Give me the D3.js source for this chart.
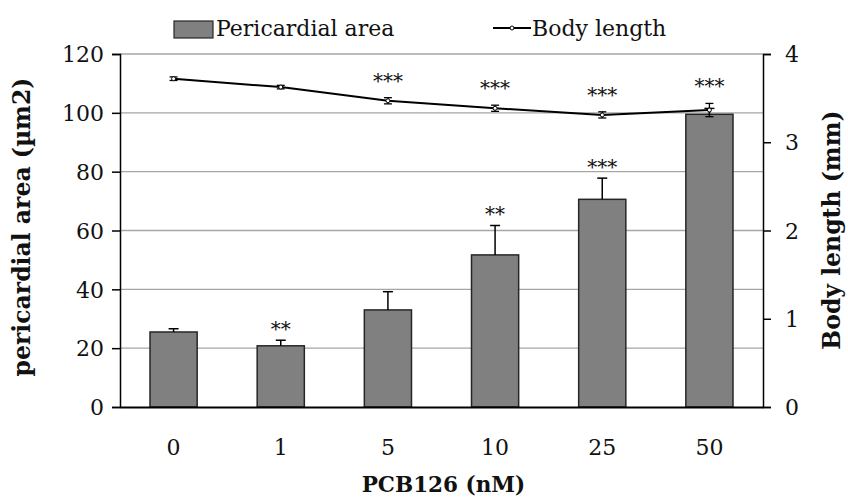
<!DOCTYPE html>
<html>
<head>
<meta charset="utf-8">
<script src="https://cdn.jsdelivr.net/npm/d3@7"></script>
<style>
  body { margin: 0; background: #fff; }
  text { font-family: "DejaVu Serif", serif; fill: #111; }
</style>
</head>
<body>
<svg id="chart" width="848" height="498"></svg>
<script>
// data
const doses = ['0', '1', '5', '10', '25', '50'];
const areaMean = [25.5, 20.8, 33, 51.7, 70.6, 99.5];
const areaErr = [1.1, 1.9, 6.2, 10, 7.2, 2];
const areaSig = ['', '**', '', '**', '***', ''];
const lengthMean = [3.72, 3.625, 3.47, 3.385, 3.31, 3.365];
const lengthErr = [0.02, 0.02, 0.035, 0.035, 0.035, 0.075];
const lengthSig = ['', '', '***', '***', '***', '***'];
const leftTicks = [0, 20, 40, 60, 80, 100, 120];
const rightTicks = [0, 1, 2, 3, 4];

const svg = d3.select('#chart');
const margin = { top: 54, right: 85, bottom: 91, left: 120 };
const W = 848, H = 498;
const innerW = W - margin.left - margin.right;
const innerH = H - margin.top - margin.bottom;

const x = d3.scaleBand().domain(doses).range([0, innerW]).paddingInner(0.56).paddingOuter(0.28);
const yL = d3.scaleLinear().domain([0, 120]).range([innerH, 0]);
const yR = d3.scaleLinear().domain([0, 4]).range([innerH, 0]);

const g = svg.append('g').attr('transform', `translate(${margin.left},${margin.top})`);

// gridlines
g.append('g').selectAll('line').data(leftTicks.filter(d => d > 0)).enter()
  .append('line')
  .attr('x1', 0).attr('x2', innerW)
  .attr('y1', d => yL(d)).attr('y2', d => yL(d))
  .attr('stroke', '#a6a6a6').attr('stroke-width', 1.3);

// bars
const bars = doses.map((d, i) => ({ d, v: areaMean[i], e: areaErr[i], s: areaSig[i] }));
g.selectAll('rect.bar').data(bars).enter()
  .append('rect').attr('class', 'bar')
  .attr('x', d => x(d.d)).attr('width', x.bandwidth())
  .attr('y', d => yL(d.v)).attr('height', d => innerH - yL(d.v))
  .attr('fill', '#808080').attr('stroke', '#262626').attr('stroke-width', 1.5);

// bar error bars (upper only)
const eb = g.append('g');
bars.forEach(b => {
  const cx = x(b.d) + x.bandwidth() / 2;
  eb.append('line').attr('x1', cx).attr('x2', cx)
    .attr('y1', yL(b.v)).attr('y2', yL(b.v + b.e)).attr('stroke', '#000').attr('stroke-width', 1.5);
  eb.append('line').attr('x1', cx - 5).attr('x2', cx + 5)
    .attr('y1', yL(b.v + b.e)).attr('y2', yL(b.v + b.e)).attr('stroke', '#000').attr('stroke-width', 1.5);
  if (b.s) {
    eb.append('text').attr('x', cx).attr('y', yL(b.v + b.e) - 4)
      .attr('text-anchor', 'middle').style('font-size', '20px').text(b.s);
  }
});

// axes
g.append('g').call(d3.axisLeft(yL).tickValues(leftTicks).tickSize(8).tickPadding(8))
  .call(a => a.selectAll('text').style('font-size', '22px').attr('dy', '0.35em'))
  .call(a => a.selectAll('line, path').attr('stroke', '#000').attr('stroke-width', 1.5));
g.append('g').attr('transform', `translate(${innerW},0)`)
  .call(d3.axisRight(yR).tickValues(rightTicks).tickFormat(d3.format('d')).tickSize(8).tickPadding(14))
  .call(a => a.selectAll('text').style('font-size', '22px').attr('dy', '0.35em'))
  .call(a => a.selectAll('line, path').attr('stroke', '#000').attr('stroke-width', 1.5));
g.append('g').attr('transform', `translate(0,${innerH})`)
  .call(d3.axisBottom(x).tickSize(0).tickPadding(32))
  .call(a => a.selectAll('text').style('font-size', '22px'))
  .call(a => a.select('path').attr('stroke', '#000').attr('stroke-width', 2));

// body length line
const pts = doses.map((d, i) => ({ d, v: lengthMean[i], e: lengthErr[i], s: lengthSig[i] }));
const cxOf = d => x(d) + x.bandwidth() / 2;
g.append('path').datum(pts)
  .attr('d', d3.line().x(p => cxOf(p.d)).y(p => yR(p.v)))
  .attr('fill', 'none').attr('stroke', '#000').attr('stroke-width', 2);
const lg = g.append('g');
pts.forEach(p => {
  const cx = cxOf(p.d);
  const y1 = yR(p.v + p.e), y2 = yR(p.v - p.e);
  lg.append('line').attr('x1', cx).attr('x2', cx).attr('y1', y1).attr('y2', y2).attr('stroke', '#000').attr('stroke-width', 1.3);
  [y1, y2].forEach(yy => lg.append('line').attr('x1', cx - 4).attr('x2', cx + 4).attr('y1', yy).attr('y2', yy)
    .attr('stroke', '#000').attr('stroke-width', 1.3));
  lg.append('circle').attr('cx', cx).attr('cy', yR(p.v)).attr('r', 2)
    .attr('fill', '#fff').attr('stroke', '#000').attr('stroke-width', 1);
  if (p.s) {
    lg.append('text').attr('x', cx).attr('y', yR(p.v + p.e) - 10)
      .attr('text-anchor', 'middle').style('font-size', '20px').text(p.s);
  }
});

// axis titles
svg.append('text').attr('x', margin.left + innerW / 2 + 2).attr('y', 492)
  .attr('text-anchor', 'middle').style('font-size', '21.5px').style('font-weight', 'bold').text('PCB126 (nM)');
svg.append('text').attr('transform', `translate(30,227) rotate(-90)`)
  .attr('text-anchor', 'middle').style('font-size', '23.5px').style('font-weight', 'bold').text('pericardial area (µm2)');
svg.append('text').attr('transform', `translate(840,230) rotate(-90)`)
  .attr('text-anchor', 'middle').style('font-size', '23.5px').style('font-weight', 'bold').text('Body length (mm)');

// legend
const leg = svg.append('g');
leg.append('rect').attr('x', 174).attr('y', 21).attr('width', 39).attr('height', 17)
  .attr('fill', '#808080').attr('stroke', '#262626').attr('stroke-width', 1.2);
leg.append('text').attr('x', 216).attr('y', 36).style('font-size', '22px').text('Pericardial area');
leg.append('line').attr('x1', 493).attr('x2', 531).attr('y1', 28).attr('y2', 28).attr('stroke', '#000').attr('stroke-width', 2);
leg.append('circle').attr('cx', 512).attr('cy', 28).attr('r', 2).attr('fill', '#fff').attr('stroke', '#000');
leg.append('text').attr('x', 532).attr('y', 36).style('font-size', '22px').text('Body length');
</script>
</body>
</html>
